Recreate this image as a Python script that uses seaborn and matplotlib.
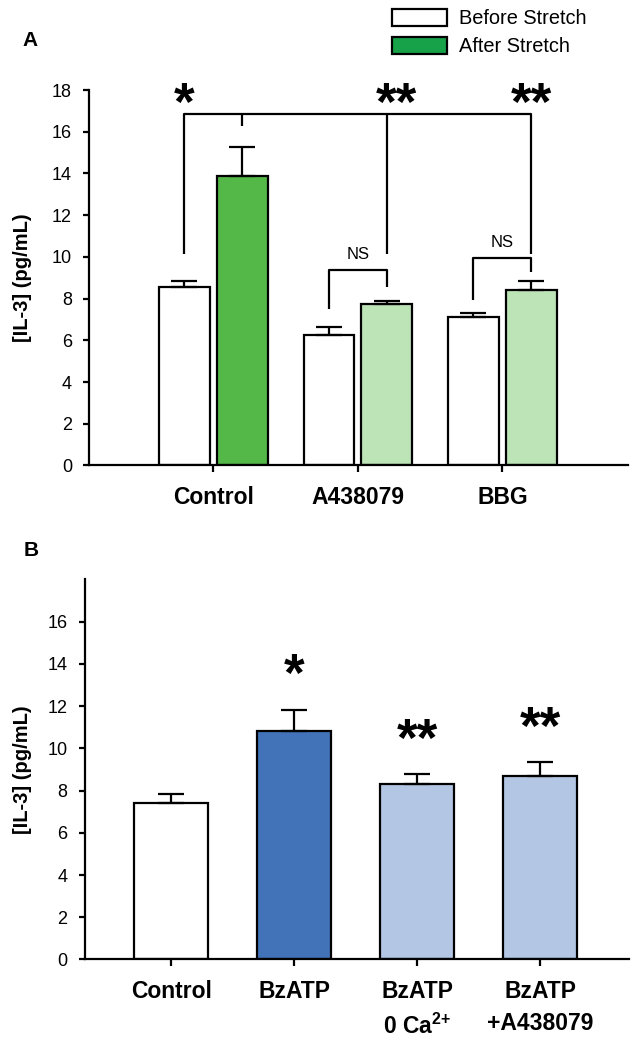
import pandas as pd
import seaborn as sns
import matplotlib.pyplot as plt
from matplotlib.patches import Patch

# ---- Panel A data: IL-3 before / after stretch ----
a_groups = ['Control', 'A438079', 'BBG']
a_before = [8.54, 6.25, 7.10]
a_before_err = [0.30, 0.37, 0.19]
a_after = [13.86, 7.72, 8.43]
a_after_err = [1.43, 0.19, 0.40]
a_after_colors = ['#54B848', '#BDE4B7', '#BDE4B7']

# ---- Panel B data: BzATP treatment ----
b_groups = ['Control', 'BzATP', 'BzATP\n0 Ca$^{2{+}}$', 'BzATP\n+A438079']
b_values = [7.40, 10.84, 8.32, 8.71]
b_err = [0.43, 0.97, 0.46, 0.66]
b_colors = ['#FFFFFF', '#4273B9', '#B3C7E4', '#B3C7E4']
b_stars = ['', '*', '**', '**']
b_star_y = [0, 13.4, 10.3, 10.85]

sns.set_style('ticks')
plt.rcParams['font.family'] = ['Liberation Sans', 'DejaVu Sans']
plt.rcParams['mathtext.fontset'] = 'custom'
plt.rcParams['mathtext.rm'] = 'Liberation Sans:bold'
plt.rcParams['mathtext.it'] = 'Liberation Sans:bold'
plt.rcParams['mathtext.bf'] = 'Liberation Sans:bold'
for k in ['text.color', 'axes.labelcolor', 'xtick.color', 'ytick.color', 'axes.edgecolor']:
    plt.rcParams[k] = 'black'

fig = plt.figure(figsize=(6.38, 10.47), dpi=100)
axA = fig.add_axes([0.140, 0.5554, 0.845, 0.3586])
axB = fig.add_axes([0.1332, 0.0836, 0.852, 0.363])

LW = 1.6


def style_axis(ax, xlim, yticks):
    ax.set_ylim(0, 18)
    ax.set_xlim(*xlim)
    ax.set_yticks(yticks)
    for s in ['top', 'right']:
        ax.spines[s].set_visible(False)
    for s in ['left', 'bottom']:
        ax.spines[s].set_linewidth(LW)
        ax.spines[s].set_color('black')
    ax.tick_params(axis='y', length=4.5, width=LW, pad=8, labelsize=13, colors='black')
    ax.tick_params(axis='x', length=5, width=LW, pad=10, labelsize=16.5, colors='black')
    for t in ax.get_xticklabels():
        t.set_fontweight('bold')
    ax.set_xlabel('')
    ax.set_ylabel('[IL-3] (pg/mL)', fontsize=14.5, fontweight='bold')


# ---------------- Panel A ----------------
dfA = pd.DataFrame({
    'group': a_groups * 2,
    'cond': ['Before Stretch'] * 3 + ['After Stretch'] * 3,
    'value': a_before + a_after,
})
sns.barplot(data=dfA, x='group', y='value', hue='cond', order=a_groups,
            hue_order=['Before Stretch', 'After Stretch'],
            palette=['white', a_after_colors[0]], saturation=1, edgecolor='black',
            linewidth=LW, width=0.8, gap=0.12, errorbar=None,
            legend=False, ax=axA)

before_bars = list(axA.containers[0])
after_bars = list(axA.containers[1])
for p, c in zip(after_bars, a_after_colors):
    p.set_facecolor(c)

bx = [p.get_x() + p.get_width() / 2 for p in before_bars]
ax_ = [p.get_x() + p.get_width() / 2 for p in after_bars]
for xs, ys, es in [(bx, a_before, a_before_err), (ax_, a_after, a_after_err)]:
    axA.errorbar(xs, ys, yerr=[[0] * len(es), es], fmt='none', ecolor='black',
                 elinewidth=LW, capsize=9.5, capthick=LW, zorder=3)

style_axis(axA, (-0.858, 2.872), range(0, 19, 2))
axA.yaxis.set_label_coords(-0.106, 0.5)

# significance brackets
top_y, leg_y, mid_tick_y = 16.86, 10.15, 16.3
bk = dict(color='black', lw=LW, solid_capstyle='butt', zorder=4)
axA.plot([bx[0], bx[0], ax_[2], ax_[2]], [leg_y, top_y, top_y, leg_y], **bk)
axA.plot([ax_[0], ax_[0]], [top_y, mid_tick_y], **bk)
axA.plot([ax_[1], ax_[1]], [top_y, leg_y], **bk)

star_y = 17.25
star_kw = dict(ha='center', va='center', fontsize=38, fontweight='bold', color='black')
axA.text(bx[0], star_y, '*', **star_kw)
axA.text(ax_[1] + 0.07, star_y, '**', **star_kw)
axA.text(ax_[2], star_y, '**', **star_kw)

# NS brackets: (group index, bar y, left leg end, right leg end, text y)
ns_brackets = [(1, 9.37, 7.51, 8.55, 10.1), (2, 9.95, 7.95, 9.26, 10.7)]
for i, h, l_end, r_end, ty in ns_brackets:
    axA.plot([bx[i], bx[i], ax_[i], ax_[i]], [l_end, h, h, r_end], **bk)
    axA.text((bx[i] + ax_[i]) / 2, ty, 'NS', ha='center', va='center', fontsize=12)

fig.legend(handles=[Patch(facecolor='white', edgecolor='black', linewidth=LW),
                    Patch(facecolor='#17A24A', edgecolor='black', linewidth=LW)],
           labels=['Before Stretch', 'After Stretch'],
           loc='upper left', bbox_to_anchor=(392 / 638, 1 - 9 / 1047),
           frameon=False, fontsize=14.4, handlelength=2.75, handleheight=0.9,
           handletextpad=0.6, labelspacing=0.45, borderpad=0, borderaxespad=0)

# ---------------- Panel B ----------------
sns.barplot(x=b_groups, y=b_values, hue=b_groups, palette=b_colors, saturation=1,
            edgecolor='black', linewidth=LW, width=0.6, errorbar=None,
            legend=False, ax=axB)
b_bars = sorted([p for c in axB.containers for p in c], key=lambda p: p.get_x())
bbx = [p.get_x() + p.get_width() / 2 for p in b_bars]
axB.errorbar(bbx, b_values, yerr=[[0] * len(b_err), b_err], fmt='none',
             ecolor='black', elinewidth=LW, capsize=9.5, capthick=LW, zorder=3)
for x, s, y in zip(bbx, b_stars, b_star_y):
    if s:
        axB.text(x, y, s, **star_kw)

style_axis(axB, (-0.70, 3.718), range(0, 17, 2))
axB.yaxis.set_label_coords(-0.0976, 0.5)
for t in axB.get_xticklabels():
    t.set_linespacing(1.5)

fig.text(22 / 638, 1 - 41 / 1047, 'A', fontsize=15, fontweight='bold', va='center', ha='left')
fig.text(24 / 638, 1 - 550 / 1047, 'B', fontsize=15, fontweight='bold', va='center', ha='left')

fig.savefig('out.png', dpi=100)
